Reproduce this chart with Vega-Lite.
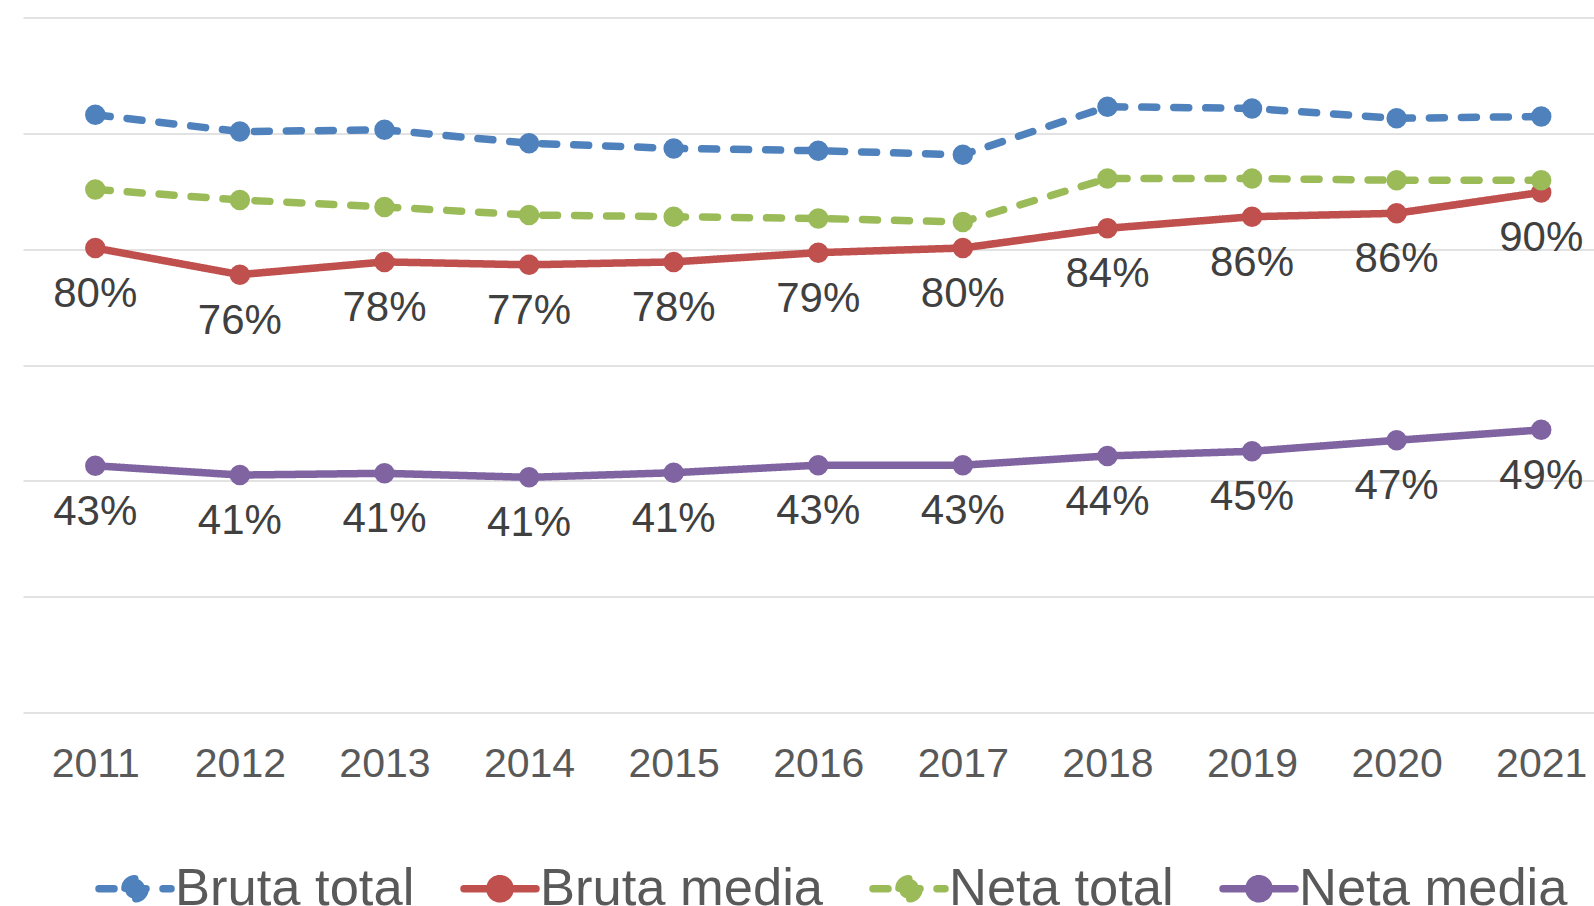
{
  "$schema": "https://vega.github.io/schema/vega-lite/v6.json",
  "width": 1571,
  "height": 695,
  "padding": {"left": 23, "top": 17.5, "right": 0, "bottom": 0},
  "background": "white",
  "config": {
    "view": {"stroke": null},
    "font": "Liberation Sans"
  },
  "data": {
    "values": [
      {"year": 2011, "series": "Bruta total", "value": 1.032},
      {"year": 2012, "series": "Bruta total", "value": 1.003},
      {"year": 2013, "series": "Bruta total", "value": 1.006},
      {"year": 2014, "series": "Bruta total", "value": 0.983},
      {"year": 2015, "series": "Bruta total", "value": 0.974},
      {"year": 2016, "series": "Bruta total", "value": 0.970},
      {"year": 2017, "series": "Bruta total", "value": 0.963},
      {"year": 2018, "series": "Bruta total", "value": 1.046},
      {"year": 2019, "series": "Bruta total", "value": 1.043},
      {"year": 2020, "series": "Bruta total", "value": 1.026},
      {"year": 2021, "series": "Bruta total", "value": 1.029},
      {"year": 2011, "series": "Bruta media", "value": 0.802},
      {"year": 2012, "series": "Bruta media", "value": 0.756},
      {"year": 2013, "series": "Bruta media", "value": 0.778},
      {"year": 2014, "series": "Bruta media", "value": 0.773},
      {"year": 2015, "series": "Bruta media", "value": 0.778},
      {"year": 2016, "series": "Bruta media", "value": 0.794},
      {"year": 2017, "series": "Bruta media", "value": 0.802},
      {"year": 2018, "series": "Bruta media", "value": 0.836},
      {"year": 2019, "series": "Bruta media", "value": 0.856},
      {"year": 2020, "series": "Bruta media", "value": 0.862},
      {"year": 2021, "series": "Bruta media", "value": 0.898},
      {"year": 2011, "series": "Neta total", "value": 0.903},
      {"year": 2012, "series": "Neta total", "value": 0.885},
      {"year": 2013, "series": "Neta total", "value": 0.873},
      {"year": 2014, "series": "Neta total", "value": 0.859},
      {"year": 2015, "series": "Neta total", "value": 0.856},
      {"year": 2016, "series": "Neta total", "value": 0.853},
      {"year": 2017, "series": "Neta total", "value": 0.847},
      {"year": 2018, "series": "Neta total", "value": 0.922},
      {"year": 2019, "series": "Neta total", "value": 0.922},
      {"year": 2020, "series": "Neta total", "value": 0.919},
      {"year": 2021, "series": "Neta total", "value": 0.919},
      {"year": 2011, "series": "Neta media", "value": 0.426},
      {"year": 2012, "series": "Neta media", "value": 0.410},
      {"year": 2013, "series": "Neta media", "value": 0.413},
      {"year": 2014, "series": "Neta media", "value": 0.406},
      {"year": 2015, "series": "Neta media", "value": 0.414},
      {"year": 2016, "series": "Neta media", "value": 0.427},
      {"year": 2017, "series": "Neta media", "value": 0.427},
      {"year": 2018, "series": "Neta media", "value": 0.443},
      {"year": 2019, "series": "Neta media", "value": 0.451},
      {"year": 2020, "series": "Neta media", "value": 0.470},
      {"year": 2021, "series": "Neta media", "value": 0.488}
    ]
  },
  "encoding": {
    "x": {
      "field": "year", "type": "quantitative",
      "scale": {"domain": [2010.5, 2021.365], "nice": false, "zero": false},
      "axis": {
        "title": null, "values": [2011, 2012, 2013, 2014, 2015, 2016, 2017, 2018, 2019, 2020, 2021],
        "format": "d", "grid": false, "ticks": false, "tickSize": 0, "domain": false,
        "labelFont": "Liberation Sans", "labelFontSize": 41, "labelColor": "#595959",
        "labelBaseline": "alphabetic", "labelPadding": 64, "labelFlush": false, "labelOverlap": false
      }
    },
    "y": {
      "field": "value", "type": "quantitative",
      "scale": {"domain": [0, 1.2], "nice": false},
      "axis": {
        "title": null, "values": [0, 0.2, 0.4, 0.6, 0.8, 1.0, 1.2],
        "labels": false, "ticks": false, "domain": false,
        "grid": true, "gridColor": "#d9d9d9", "gridWidth": 1.5
      }
    },
    "color": {
      "field": "series", "type": "nominal",
      "scale": {
        "domain": ["Bruta total", "Bruta media", "Neta total", "Neta media"],
        "range": ["#4F81BD", "#C0504D", "#9BBB59", "#8064A2"]
      },
      "legend": {
        "orient": "none", "legendX": 72, "legendY": 831, "direction": "horizontal",
        "title": null, "padding": 0,
        "symbolType": "M-1,0H1M0.28,0A0.28,0.28,0,1,1,-0.28,0A0.28,0.28,0,1,1,0.28,0Z",
        "symbolSize": 5184, "symbolStrokeWidth": 7.5,
        "labelFont": "Liberation Sans", "labelFontSize": 52.5, "labelColor": "#595959",
        "labelLimit": 600, "labelOffset": 0, "columnPadding": 34,
        "encode": {
          "symbols": {
            "update": {
              "fill": {"scale": "color", "field": "value"},
              "stroke": {"scale": "color", "field": "value"},
              "strokeDash": {"scale": "strokeDash", "field": "value"},
              "strokeCap": {"value": "round"},
              "opacity": {"value": 1}
            }
          }
        }
      }
    }
  },
  "layer": [
    {
      "mark": {"type": "line", "strokeWidth": 7.5, "strokeCap": "round", "strokeJoin": "round"},
      "encoding": {
        "strokeDash": {
          "field": "series", "type": "nominal",
          "scale": {
            "domain": ["Bruta total", "Bruta media", "Neta total", "Neta media"],
            "range": [[15, 17], [1, 0], [15, 17], [1, 0]]
          },
          "legend": null
        }
      }
    },
    {
      "mark": {"type": "point", "filled": true, "size": 420, "opacity": 1, "strokeWidth": 0}
    },
    {
      "transform": [{"filter": {"field": "series", "oneOf": ["Bruta media", "Neta media"]}}],
      "mark": {"type": "text", "font": "Liberation Sans", "fontSize": 42, "color": "#404040", "baseline": "alphabetic", "align": "center", "dy": 59},
      "encoding": {
        "text": {"field": "value", "type": "quantitative", "format": ".0%"},
        "color": {"value": "#404040"}
      }
    }
  ]
}
